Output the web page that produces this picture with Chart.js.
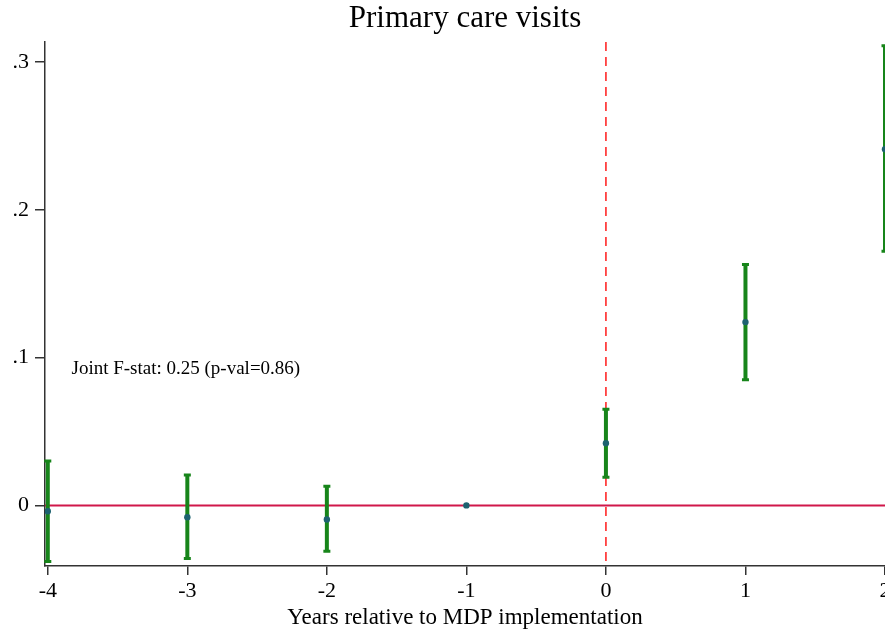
<!DOCTYPE html>
<html>
<head>
<meta charset="utf-8">
<script src="https://cdn.jsdelivr.net/npm/chart.js@4.4.1/dist/chart.umd.min.js"></script>
<style>
  html, body { margin: 0; padding: 0; background: #fff; overflow: hidden; }
  #wrap { width: 900px; height: 632px; }
</style>
</head>
<body>
<div id="wrap"><canvas id="eventChart"></canvas></div>
<script>
// event-study estimates
const years = [-4, -3, -2, -1, 0, 1, 2];
const estimates = [-0.004, -0.008, -0.0095, 0, 0.042, 0.124, 0.241];
const ciLow = [-0.038, -0.036, -0.031, 0, 0.019, 0.085, 0.172];
const ciHigh = [0.030, 0.0205, 0.013, 0, 0.065, 0.163, 0.311];

const yTicks = [0, 0.1, 0.2, 0.3];
const yTickLabels = ["0", ".1", ".2", ".3"];
const xTicks = [-4, -3, -2, -1, 0, 1, 2];

const titleText = "Primary care visits";
const noteText = "Joint F-stat: 0.25 (p-val=0.86)";
const serif = "'Liberation Serif', 'DejaVu Serif', serif";

// error bars, zero line, event line, note and title
const extras = {
  id: "extras",
  beforeDatasetsDraw(chart) {
    const { ctx, chartArea, scales } = chart;
    const x = scales.x, y = scales.y;
    ctx.save();

    // horizontal zero line
    ctx.strokeStyle = "#d0174a";
    ctx.lineWidth = 2;
    ctx.beginPath();
    ctx.moveTo(chartArea.left, y.getPixelForValue(0));
    ctx.lineTo(chartArea.right, y.getPixelForValue(0));
    ctx.stroke();

    // vertical dashed line at implementation
    ctx.strokeStyle = "#ff1a1a";
    ctx.lineWidth = 1.5;
    ctx.setLineDash([9, 6]);
    ctx.beginPath();
    ctx.moveTo(x.getPixelForValue(0), chartArea.top);
    ctx.lineTo(x.getPixelForValue(0), chartArea.bottom);
    ctx.stroke();
    ctx.setLineDash([]);

    // confidence intervals
    ctx.strokeStyle = "#17851a";
    years.forEach((yr, i) => {
      if (ciHigh[i] === ciLow[i]) return;
      const px = x.getPixelForValue(yr);
      const top = y.getPixelForValue(ciHigh[i]);
      const bot = y.getPixelForValue(ciLow[i]);
      ctx.lineWidth = 4;
      ctx.beginPath();
      ctx.moveTo(px, top);
      ctx.lineTo(px, bot);
      ctx.stroke();
      ctx.lineWidth = 3;
      ctx.beginPath();
      ctx.moveTo(px - 3.5, top);
      ctx.lineTo(px + 3.5, top);
      ctx.moveTo(px - 3.5, bot);
      ctx.lineTo(px + 3.5, bot);
      ctx.stroke();
    });

    // note
    ctx.fillStyle = "#000";
    ctx.font = "19px " + serif;
    ctx.textBaseline = "middle";
    ctx.textAlign = "left";
    ctx.fillText(noteText, x.getPixelForValue(-3.83), y.getPixelForValue(0.092));

    // title, centred over the plot region
    ctx.font = "31px " + serif;
    ctx.textAlign = "center";
    ctx.textBaseline = "alphabetic";
    ctx.fillText(titleText, (chartArea.left + chartArea.right) / 2, 27);
    ctx.restore();
  }
};

new Chart(document.getElementById("eventChart"), {
  type: "scatter",
  data: {
    datasets: [{
      data: years.map((yr, i) => ({ x: yr, y: estimates[i] })),
      backgroundColor: "#1d6270",
      borderColor: "#1d6270",
      pointRadius: 3.2,
      borderWidth: 0
    }]
  },
  options: {
    responsive: true,
    maintainAspectRatio: false,
    animation: false,
    layout: { padding: { left: 0, right: 15, top: 42, bottom: 0 } },
    plugins: {
      legend: { display: false },
      tooltip: { enabled: false },
      title: { display: false }
    },
    scales: {
      x: {
        type: "linear",
        min: -4.02,
        max: 2,
        afterBuildTicks: s => { s.ticks = xTicks.map(v => ({ value: v })); },
        afterFit: s => { s.height = 66; },
        grid: { drawOnChartArea: false, tickLength: 9, tickColor: "#333", lineWidth: 1.5 },
        border: { display: true, color: "#333", width: 1.5 },
        ticks: {
          color: "#000",
          font: { family: serif, size: 22 },
          padding: 3,
          maxRotation: 0,
          callback: v => String(v)
        },
        title: {
          display: true,
          text: "Years relative to MDP implementation",
          color: "#000",
          font: { family: serif, size: 23 },
          padding: { top: 0, bottom: 0.5 }
        }
      },
      y: {
        type: "linear",
        min: -0.041,
        max: 0.3135,
        afterBuildTicks: s => { s.ticks = yTicks.map(v => ({ value: v })); },
        afterFit: s => { s.width = 45; },
        grid: { drawOnChartArea: false, tickLength: 10, tickColor: "#333", lineWidth: 1.5 },
        border: { display: true, color: "#333", width: 1.5 },
        ticks: {
          color: "#000",
          font: { family: serif, size: 22 },
          padding: 6,
          callback: v => yTickLabels[yTicks.indexOf(v)] ?? ""
        }
      }
    }
  },
  plugins: [extras]
});
</script>
</body>
</html>
